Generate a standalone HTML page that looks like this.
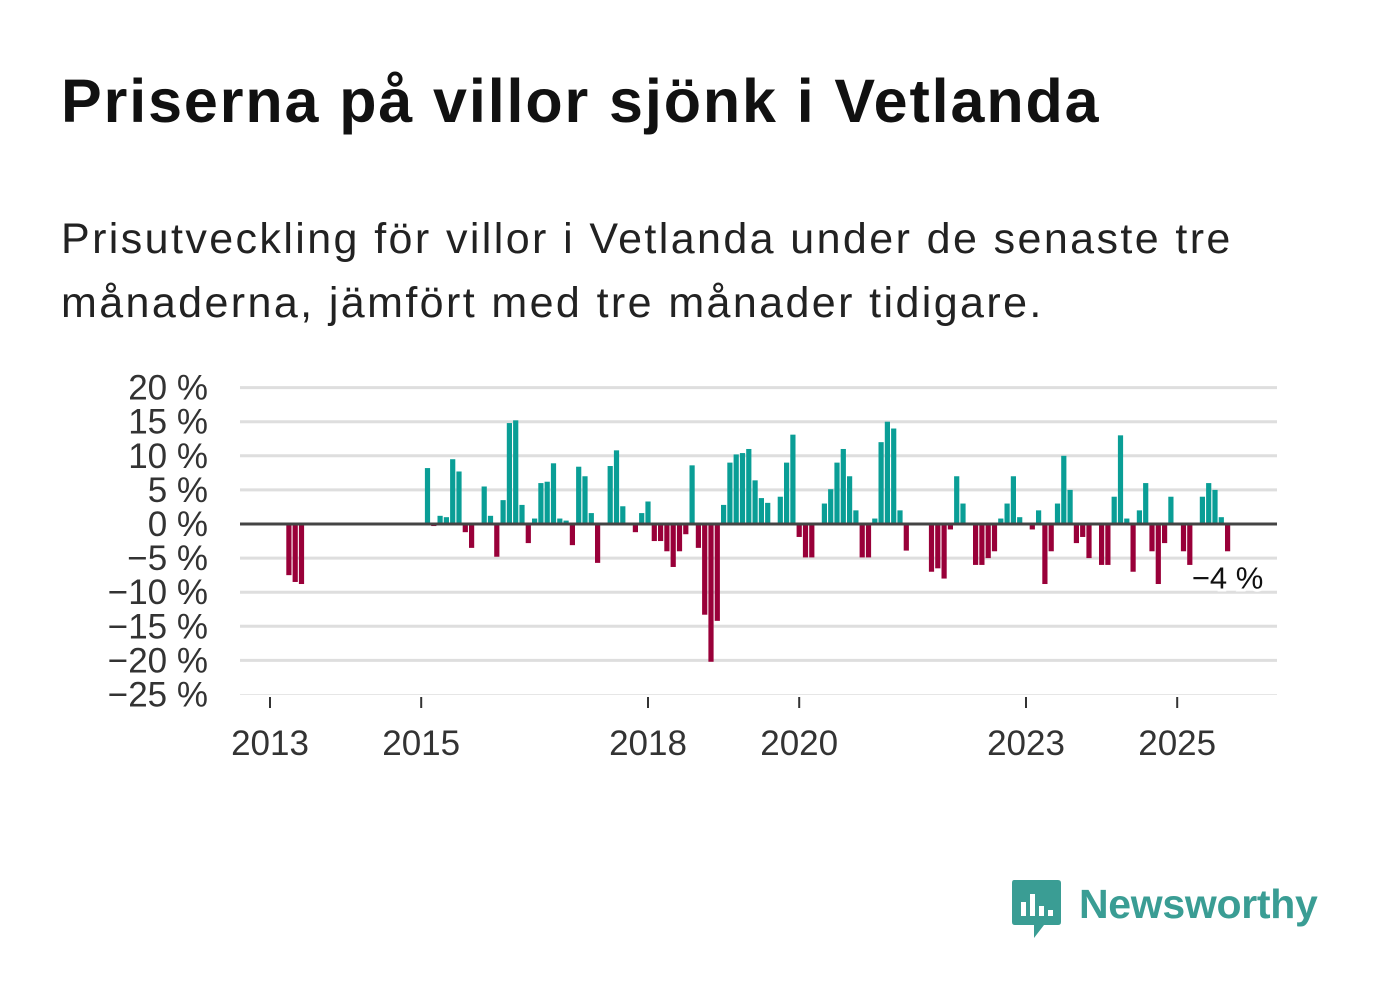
<!DOCTYPE html>
<html><head><meta charset="utf-8"><style>
body{margin:0;background:#fff;width:1382px;height:999px;overflow:hidden;font-family:"Liberation Sans",sans-serif;position:relative}
#title{position:absolute;left:61px;top:66px;font-size:61px;font-weight:bold;color:#111;margin:0;letter-spacing:1.9px}
#sub{position:absolute;left:61px;top:207px;font-size:43px;line-height:64px;color:#222;width:1280px;letter-spacing:2.4px}
svg{position:absolute;left:0;top:0}
</style></head><body>
<h1 id="title">Priserna på villor sjönk i Vetlanda</h1>
<div id="sub">Prisutveckling för villor i Vetlanda under de senaste tre<br>månaderna, jämfört med tre månader tidigare.</div>
<svg id="chart" width="1382" height="999"></svg>
<div style="position:absolute;left:1012px;top:880px;">
<svg width="50" height="60" style="position:absolute;left:0;top:0">
<path d="M2 0 H46 Q49 0 49 3 V42 Q49 45 46 45 H32 L22 58 L22 45 H3 Q0 45 0 42 V3 Q0 0 2 0Z" fill="#3a9d94"/>
<rect x="9" y="22" width="5" height="14" fill="#fff"/><rect x="18" y="14" width="5" height="22" fill="#fff"/><rect x="27" y="26" width="5" height="10" fill="#fff"/><rect x="36" y="30" width="5" height="6" fill="#fff"/>
</svg>
<span style="position:absolute;left:67px;top:1px;font-size:41px;font-weight:bold;color:#3a9d94;white-space:nowrap;letter-spacing:-0.3px">Newsworthy</span>
</div>
<script>
const yTicks=[20,15,10,5,0,-5,-10,-15,-20,-25];
const xTickYears=[2013,2015,2018,2020,2023,2025];
const startYear=2013;
const values=[null,null,null,-7.5,-8.5,-8.8,null,null,null,null,null,null,null,null,null,null,null,null,null,null,null,null,null,null,null,
8.2,-0.3,1.2,1.0,9.5,7.7,-1.2,-3.5,null,5.5,1.2,-4.8,3.5,14.8,15.2,2.8,-2.8,0.8,6.0,6.2,8.9,0.8,0.5,-3.1,8.4,7.0,1.6,-5.7,null,8.5,10.8,2.6,null,-1.2,1.6,
3.3,-2.5,-2.5,-4.0,-6.3,-4.0,-1.5,8.6,-3.5,-13.3,-20.2,-14.2,2.8,9.0,10.2,10.4,11.0,6.4,3.8,3.1,null,4.0,9.0,13.1,-1.9,-4.9,-4.9,null,3.0,5.1,
9.0,11.0,7.0,2.0,-4.9,-4.9,0.8,12.0,15.0,14.0,2.0,-3.9,null,null,null,-7,-6.5,-8,-0.8,7,3,null,-6,-6,-5,-4,0.8,3,7,1,null,-0.8,2,-8.8,-4,3,10,5,-2.8,-1.9,-5,null,
-6,-6,4,13,0.8,-7,2,6,-4,-8.8,-2.8,4,null,-4,-6,null,4,6,5,1,-4];
const lastLabel="−4 %";
const NS="http://www.w3.org/2000/svg";
const svg=document.getElementById('chart');
const X0=270,MW=6.3,L=240,R=1277;
const y=v=>524-v*6.82;
const x=i=>X0+i*MW;
function el(t,a){const e=document.createElementNS(NS,t);for(const k in a)e.setAttribute(k,a[k]);svg.appendChild(e);return e;}
yTicks.forEach(t=>{
 const g=el('line',{x1:L,x2:R,y1:y(t),y2:y(t),stroke:t===-25?'#e6e6e6':'#dedede','stroke-width':t===-25?1:3});
 
 
 const tx=el('text',{x:208,y:y(t)+12,'text-anchor':'end','font-size':35,fill:'#333'});
 tx.textContent=(t<0?'−'+(-t):t)+' %';
 
 
});
xTickYears.forEach(yr=>{
 const xx=x((yr-startYear)*12);
 const tk=el('line',{x1:xx,x2:xx,y1:697,y2:708,stroke:'#333','stroke-width':2});
 
 
 const tx=el('text',{x:xx,y:755,'text-anchor':'middle','font-size':35,fill:'#333'});
 tx.textContent=yr;
 
 
});
values.forEach((v,i)=>{
 if(v===null)return;
 const r=el('rect',{x:x(i)-2.6,width:5.2,y:Math.min(y(v),524),height:Math.abs(y(v)-524),fill:v>=0?'#0a9e96':'#990039'});
 
 
});
const z=el('line',{x1:L,x2:R,y1:524,y2:524,stroke:'#444','stroke-width':3});


const li=values.length-1;
const lb=el('text',{x:x(li)+0,y:y(-4)+37,'text-anchor':'middle','font-size':31,fill:'#111',stroke:'#fff','stroke-width':6,'paint-order':'stroke'});
lb.textContent=lastLabel;


</script>
</body></html>
